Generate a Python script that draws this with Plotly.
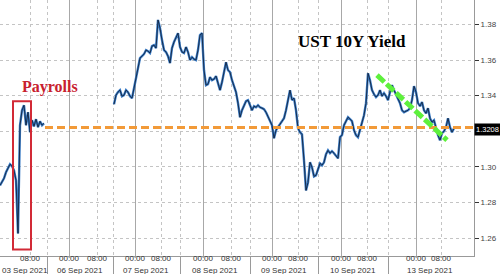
import plotly.graph_objects as go

# ---- data (UST 10Y yield, compressed trading-time index) ----
seg1_start = 0
seg1 = [1.2896, 1.2913, 1.2936, 1.2970, 1.2992, 1.3015, 1.3004, 1.2981, 1.2925, 1.2627,
        1.3234, 1.3318, 1.3346, 1.3234, 1.3307, 1.3195, 1.3262, 1.3228, 1.3268, 1.3223,
        1.3256, 1.3234, 1.3245]

seg2_start = 57
seg2 = [1.3352, 1.3403, 1.3420, 1.3431, 1.3397, 1.3403, 1.3431, 1.3420, 1.3397, 1.3386,
        1.3442, 1.3498, 1.3555, 1.3611, 1.3622, 1.3633, 1.3656, 1.3650, 1.3639, 1.3678,
        1.3684, 1.3667, 1.3825, 1.3780, 1.3712, 1.3656, 1.3645, 1.3622, 1.3583, 1.3667,
        1.3701, 1.3723, 1.3751, 1.3673, 1.3645, 1.3639, 1.3673, 1.3645, 1.3600, 1.3616,
        1.3605, 1.3600, 1.3656, 1.3740, 1.3751, 1.3543, 1.3459, 1.3465, 1.3504, 1.3487,
        1.3493, 1.3510, 1.3465, 1.3431, 1.3476, 1.3543, 1.3588, 1.3543, 1.3532, 1.3487,
        1.3459, 1.3420, 1.3358, 1.3279, 1.3318, 1.3341, 1.3369, 1.3375, 1.3346, 1.3318,
        1.3341, 1.3335, 1.3346, 1.3335, 1.3330, 1.3324, 1.3307, 1.3279, 1.3257, 1.3234,
        1.3161, 1.3206, 1.3223, 1.3240, 1.3262, 1.3273, 1.3318, 1.3375, 1.3431, 1.3375,
        1.3386, 1.3318, 1.3217, 1.3195, 1.3183, 1.3037, 1.2868, 1.2913, 1.3026, 1.2998,
        1.2947, 1.2953, 1.2981, 1.3020, 1.3009, 1.3026, 1.3071, 1.3093, 1.3077, 1.3088,
        1.3077, 1.3065, 1.3048, 1.3167, 1.3178, 1.3234, 1.3262, 1.3279, 1.3268, 1.3257,
        1.3206, 1.3178, 1.3167, 1.3206, 1.3245, 1.3290, 1.3358, 1.3526, 1.3487, 1.3431,
        1.3408, 1.3392, 1.3403, 1.3431, 1.3397, 1.3414, 1.3397, 1.3375, 1.3420, 1.3459,
        1.3431, 1.3403, 1.3380, 1.3358, 1.3318, 1.3307, 1.3313, 1.3318, 1.3330, 1.3375,
        1.3453, 1.3420, 1.3358, 1.3341, 1.3364, 1.3318, 1.3301, 1.3330, 1.3273, 1.3251,
        1.3262, 1.3217, 1.3178, 1.3150, 1.3189, 1.3200, 1.3223, 1.3273, 1.3223, 1.3195,
        1.3217]

midnight_pos = [34.5, 67.5, 101.5, 136, 170.5, 208]
eight_pos = [15, 48.5, 80.5, 115.5, 149, 183.5, 220.5]
day_sep = [23.5, 56.5, 90, 125, 159, 194]
day_labels = ["03 Sep 2021", "06 Sep 2021", "07 Sep 2021", "08 Sep 2021",
              "09 Sep 2021", "10 Sep 2021", "13 Sep 2021"]
day_centers = [10.5, 40, 73, 107.5, 142, 176.5, 215]
y_ticks = [1.26, 1.28, 1.30, 1.32, 1.34, 1.36, 1.38]
last_value = 1.3208
ref_level = 1.3222
ref_x = [22.5, 237]
trend_x = [188.5, 223.5]
trend_y = [1.3515, 1.3150]
box_x = [6.5, 15.5]
box_y = [1.2537, 1.3369]
x_range = [0, 237]
y_range = [1.25, 1.3937]

x1 = [seg1_start + i for i in range(len(seg1))]
x2 = [seg2_start + i for i in range(len(seg2))]
xs = x1 + [None] + x2
ys = seg1 + [None] + seg2

ticks_all = sorted([(p, "00:00") for p in midnight_pos] + [(p, "08:00") for p in eight_pos])

fig = go.Figure()
# invisible anchors so the overlay axes render
for ax in ["x2", "x3"]:
    fig.add_trace(go.Scatter(x=x_range, y=y_range, xaxis=ax, mode="markers",
                             marker=dict(opacity=0), hoverinfo="skip"))
fig.add_trace(go.Scatter(x=xs, y=ys, mode="lines", line=dict(color="#3b7cc6", width=2.4),
                         connectgaps=False, hoverinfo="skip"))
fig.add_trace(go.Scatter(x=xs, y=ys, mode="lines", line=dict(color="#0e1a30", width=0.8),
                         connectgaps=False, hoverinfo="skip"))
fig.add_trace(go.Scatter(x=ref_x, y=[ref_level, ref_level], mode="lines",
                         line=dict(color="#f29a38", width=3, dash="8px,4px"), hoverinfo="skip"))
fig.add_trace(go.Scatter(x=trend_x, y=trend_y, mode="lines",
                         line=dict(color="#5ef03c", width=5, dash="10px,3px"), hoverinfo="skip"))

fig.add_shape(type="rect", xref="x", yref="y", x0=box_x[0], x1=box_x[1], y0=box_y[0], y1=box_y[1],
              line=dict(color="#d22a36", width=2))

tickfont = dict(family="Liberation Sans", size=8, color="#333333")
fig.update_layout(
    width=500, height=274, margin=dict(l=0, r=26, t=0, b=18),
    paper_bgcolor="white", plot_bgcolor="white", showlegend=False,
    xaxis=dict(range=x_range, tickvals=[t[0] for t in ticks_all], ticktext=[t[1] for t in ticks_all],
               showgrid=False, ticks="", zeroline=False,
               showline=True, linecolor="#999999", tickfont=tickfont, ticklabelstandoff=-6),
    xaxis2=dict(range=x_range, overlaying="x", anchor="y", side="bottom",
                tickvals=midnight_pos, showticklabels=False,
                showgrid=True, gridcolor="#a8a8a8", gridwidth=1, ticks="", zeroline=False),
    xaxis3=dict(range=x_range, overlaying="x", anchor="y", side="bottom",
                tickvals=day_sep, showticklabels=False, showgrid=True, gridcolor="#c4c4c4",
                griddash="dot", ticks="outside", ticklen=19, tickcolor="#9a9a9a", zeroline=False),
    xaxis4=dict(range=x_range, overlaying="x", anchor="y", side="bottom",
                tickvals=eight_pos, showticklabels=False, showgrid=True, gridcolor="#c4c4c4",
                griddash="dot", ticks="", zeroline=False),
    yaxis=dict(range=y_range, side="right", tickvals=y_ticks,
               ticktext=[("" if abs(v - 1.32) < 1e-9 else f"{v:.2f}") for v in y_ticks],
               ticks="outside", ticklen=4,
               tickcolor="#333333", showgrid=True, gridcolor="#c4c4c4", griddash="dot",
               showline=True, linecolor="#999999", zeroline=False,
               tickfont=dict(family="Liberation Sans", size=8, color="#444444")),
)
fig.add_trace(go.Scatter(x=x_range, y=y_range, xaxis="x4", mode="markers",
                         marker=dict(opacity=0), hoverinfo="skip"))

for i, (lab, cx) in enumerate(zip(day_labels, day_centers)):
    if i == 0:
        fig.add_annotation(x=x_range[0], xref="x", y=0, yref="paper", yshift=-14, yanchor="middle",
                           xanchor="left", text=lab, showarrow=False, font=tickfont)
    else:
        fig.add_annotation(x=cx, xref="x", y=0, yref="paper", yshift=-14, yanchor="middle",
                           text=lab, showarrow=False, font=tickfont)

fig.add_annotation(x=1, xref="paper", y=last_value, yref="y", xanchor="left", xshift=0,
                   text=f"{last_value:.4f}", showarrow=False, bgcolor="black", borderpad=1,
                   font=dict(family="Liberation Sans", size=7.5, color="white"))
fig.add_annotation(x=25, xref="x", y=1.3448, yref="y", text="<b>Payrolls</b>", showarrow=False,
                   font=dict(family="Liberation Serif", size=16, color="#c8202e"))
fig.add_annotation(x=175.75, xref="x", y=1.3706, yref="y", text="<b>UST 10Y Yield</b>",
                   showarrow=False, font=dict(family="Liberation Serif", size=17, color="black"))

fig.write_html("out.html")
